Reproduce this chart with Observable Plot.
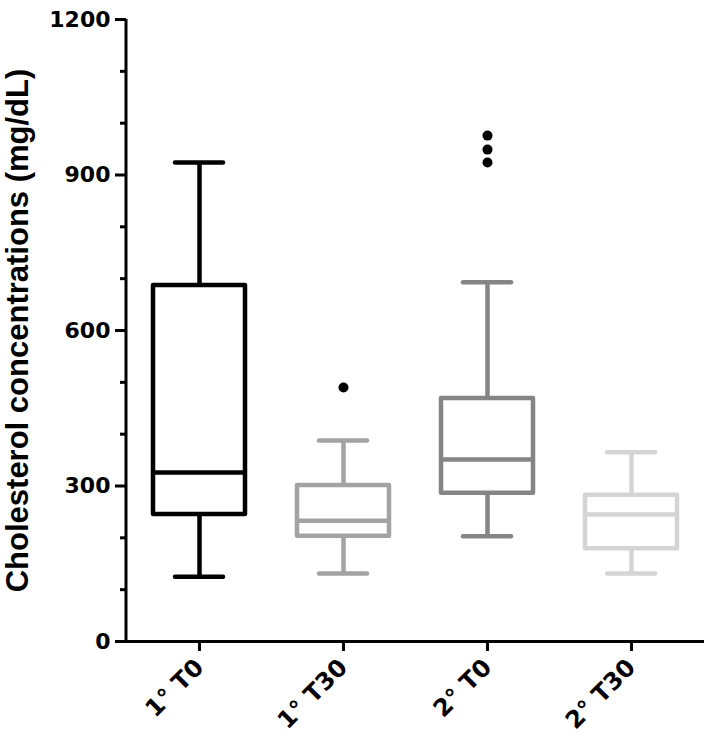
<!DOCTYPE html>
<html><head><meta charset="utf-8">
<script src="https://cdn.jsdelivr.net/npm/d3@7"></script>
<script src="https://cdn.jsdelivr.net/npm/@observablehq/plot@0.6"></script>
<style>body{margin:0;background:#fff} svg{font-family:"Liberation Sans",Arial,sans-serif}</style>
</head><body><div id="chart"></div>
<script>
const groups = ["1° T0", "1° T30", "2° T0", "2° T30"];
const lowerWhisker = [125, 131, 203, 131];
const q1 = [245, 203, 286, 179];
const median = [326, 233, 351, 245];
const q3 = [687, 301, 469, 282];
const upperWhisker = [924, 388, 693, 365];
const colors = ["#000000", "#a3a3a3", "#858585", "#d4d4d4"];
const outlierGroups = ["1° T30", "2° T0", "2° T0", "2° T0"];
const outlierValues = [490, 924, 949, 976];
const majorTicks = [0, 300, 600, 900, 1200];
const minorTicks = [100, 200, 400, 500, 700, 800, 1000, 1100];
const yLabel = "Cholesterol concentrations (mg/dL)";

const boxes = groups.map((g, i) => ({group: g, lw: lowerWhisker[i], q1: q1[i], med: median[i], q3: q3[i], uw: upperWhisker[i], color: colors[i]}));
const outliers = outlierValues.map((v, i) => ({group: outlierGroups[i], value: v}));

const SW = 4.5;
const tickFont = "DejaVu Sans";
const plot = Plot.plot({
  width: 709, height: 746,
  marginLeft: 126, marginTop: 19, marginBottom: 105, marginRight: 5,
  x: {type: "band", domain: groups, padding: 0},
  y: {domain: [0, 1200]},
  color: {type: "identity"},
  marks: [
    Plot.ruleX(boxes, {x: "group", y1: "lw", y2: "q1", stroke: "color", strokeWidth: SW}),
    Plot.ruleX(boxes, {x: "group", y1: "q3", y2: "uw", stroke: "color", strokeWidth: SW}),
    Plot.tickY(boxes, {x: "group", y: "lw", stroke: "color", strokeWidth: SW, strokeLinecap: "round", insetLeft: 48, insetRight: 48}),
    Plot.tickY(boxes, {x: "group", y: "uw", stroke: "color", strokeWidth: SW, strokeLinecap: "round", insetLeft: 48, insetRight: 48}),
    Plot.barY(boxes, {x: "group", y1: "q1", y2: "q3", fill: "white", stroke: "color", strokeWidth: SW, strokeLinejoin: "round", insetLeft: 26, insetRight: 26}),
    Plot.tickY(boxes, {x: "group", y: "med", stroke: "color", strokeWidth: SW, insetLeft: 26, insetRight: 26}),
    Plot.dot(outliers, {x: "group", y: "value", r: 5, fill: "black", stroke: "none"}),
    Plot.ruleY([0], {strokeWidth: 3, stroke: "black"}),
    Plot.axisY(majorTicks, {tickSize: 11, strokeWidth: 3, stroke: "black", fill: "black", fontSize: 22, fontWeight: "bold", fontFamily: tickFont, tickPadding: 5, tickFormat: d => String(d), label: null}),
    Plot.axisY(minorTicks, {tickSize: 6, strokeWidth: 3, stroke: "black", tickFormat: () => "", label: null}),
    Plot.axisX({tickSize: 10, strokeWidth: 3, stroke: "black", fill: "black", tickRotate: -45, fontSize: 24, fontWeight: "bold", fontFamily: tickFont, tickPadding: 12, label: null}),
    Plot.text([yLabel], {frameAnchor: "left", text: d => d, rotate: -90, dx: -108, textAnchor: "middle", lineAnchor: "middle", fontSize: 31, fontWeight: "bold", fill: "black"})
  ]
});
document.getElementById("chart").appendChild(plot);
const y = plot.scale("y");
d3.select(plot).append("line")
  .attr("x1", 126).attr("x2", 126)
  .attr("y1", y.apply(0) + 1.5).attr("y2", y.apply(1200))
  .attr("stroke", "black").attr("stroke-width", 3);
</script></body></html>
